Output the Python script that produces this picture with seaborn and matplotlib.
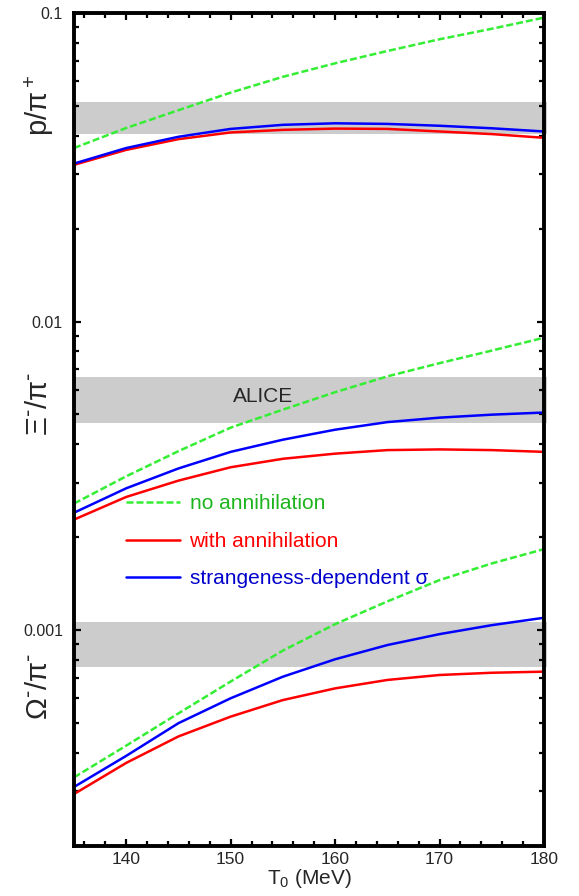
import numpy as np
import pandas as pd
import seaborn as sns
import matplotlib.pyplot as plt
import matplotlib.ticker as mticker
import matplotlib.transforms as mtransforms
from matplotlib.lines import Line2D

# temperaturas T0 (MeV)
T0 = [135, 140, 145, 150, 155, 160, 165, 170, 175, 180]

# p/pi+
p_no_ann = [0.0365, 0.0424, 0.0484, 0.0552, 0.0621, 0.0687, 0.0753, 0.0822, 0.0889, 0.0966]
p_with_ann = [0.0322, 0.0360, 0.0390, 0.0410, 0.0418, 0.0422, 0.0421, 0.0413, 0.0405, 0.0394]
p_strange = [0.0325, 0.0365, 0.0397, 0.0421, 0.0434, 0.0439, 0.0437, 0.0431, 0.0423, 0.0413]

# Xi-/pi-
xi_no_ann = [0.00257, 0.00315, 0.00380, 0.00453, 0.00518, 0.00590, 0.00664, 0.00733, 0.00805, 0.00886]
xi_with_ann = [0.00228, 0.00270, 0.00305, 0.00337, 0.00359, 0.00373, 0.00383, 0.00385, 0.00383, 0.00378]
xi_strange = [0.00240, 0.00288, 0.00334, 0.00378, 0.00414, 0.00446, 0.00472, 0.00488, 0.00499, 0.00507]

# Omega-/pi-
om_no_ann = [0.000333, 0.000422, 0.000537, 0.000681, 0.000858, 0.001045, 0.001238, 0.001452, 0.001644, 0.001829]
om_with_ann = [0.000294, 0.000371, 0.000452, 0.000524, 0.000593, 0.000647, 0.000689, 0.000715, 0.000727, 0.000733]
om_strange = [0.000310, 0.000391, 0.000499, 0.000601, 0.000706, 0.000804, 0.000894, 0.000970, 0.001037, 0.001096]

# bandas ALICE (min, max)
alice_bands = [(0.0405, 0.0515), (0.0047, 0.0066), (0.00076, 0.00106)]

modelos = ['no annihilation', 'with annihilation', 'strangeness-dependent σ']
colores_linea = {'no annihilation': '#33ee33', 'with annihilation': '#ff0000',
                 'strangeness-dependent σ': '#0000ff'}
colores_texto = ['#1db41d', '#ff0000', '#0000cc']
guiones = (2.8, 1.2)

series = {
    'p': [p_no_ann, p_with_ann, p_strange],
    'xi': [xi_no_ann, xi_with_ann, xi_strange],
    'om': [om_no_ann, om_with_ann, om_strange],
}

filas = []
for especie, valores in series.items():
    for modelo, v in zip(modelos, valores):
        for t, r in zip(T0, v):
            filas.append({'T0': t, 'ratio': r, 'especie': especie, 'modelo': modelo})
df = pd.DataFrame(filas)

sns.set_style('ticks')
plt.rcParams['font.family'] = ['Liberation Sans', 'DejaVu Sans']
plt.rcParams['mathtext.default'] = 'regular'

fig = plt.figure(figsize=(5.79, 8.96), dpi=100)
ax = fig.add_axes([0.1278, 0.0558, 0.8118, 0.9297])

for lo, hi in alice_bands:
    ax.axhspan(lo, hi, xmin=0, xmax=1.006, color='#cccccc', lw=0, zorder=0, clip_on=False)

sns.lineplot(data=df, x='T0', y='ratio', hue='modelo', style='modelo', units='especie',
             estimator=None, palette=colores_linea,
             dashes={'no annihilation': guiones, 'with annihilation': '',
                     'strangeness-dependent σ': ''},
             linewidth=1.8, legend=False, ax=ax)

ax.set_yscale('log')
ax.set_xlim(135, 180)
ax.set_ylim(10 ** -3.7, 0.1)

ax.yaxis.set_major_locator(mticker.FixedLocator([0.001, 0.01, 0.1]))
ax.yaxis.set_major_formatter(mticker.FixedFormatter(['0.001', '0.01', '0.1']))
ax.yaxis.set_minor_locator(mticker.LogLocator(base=10, subs=np.arange(2, 10)))
ax.yaxis.set_minor_formatter(mticker.NullFormatter())
ax.xaxis.set_major_locator(mticker.MultipleLocator(10))
ax.xaxis.set_minor_locator(mticker.MultipleLocator(2))

ax.tick_params(which='both', direction='in', top=True, right=True, width=1.6, color='black')
ax.tick_params(which='major', length=5.2)
ax.tick_params(which='minor', length=3.3)
ax.tick_params(axis='y', labelsize=11.5, pad=8)
ax.tick_params(axis='x', labelsize=12.5, pad=4)
for s in ax.spines.values():
    s.set_linewidth(2.8)
    s.set_color('black')
    s.set_visible(True)

ax.set_xlabel('T$_0$ (MeV)', fontsize=15, labelpad=0)
ax.set_ylabel('')

trans = mtransforms.blended_transform_factory(ax.transAxes, ax.transData)
etiquetas = [(r'p/π$^+$', 0.0504), (r'Ξ$^{\text{-}}$/π$^{\text{-}}$', 5.39e-3),
             (r'Ω$^{\text{-}}$/π$^{\text{-}}$', 6.55e-4)]
for txt, yv in etiquetas:
    ax.text(-0.074, yv, txt, transform=trans, rotation=90, ha='center', va='center', fontsize=21)

ax.text(153.1, 5.71e-3, 'ALICE', ha='center', va='center', fontsize=15)

handles = [Line2D([], [], color=colores_linea[m], lw=1.8,
                  dashes=guiones if m == 'no annihilation' else (None, None))
           for m in modelos]
ax.legend(handles, modelos, labelcolor=colores_texto, frameon=False, fontsize=15,
          loc='upper left', bbox_to_anchor=(0.1106, 0.422), borderpad=0, borderaxespad=0,
          handlelength=2.6, handletextpad=0.45, labelspacing=0.88)

plt.savefig('out.png', dpi=100)
